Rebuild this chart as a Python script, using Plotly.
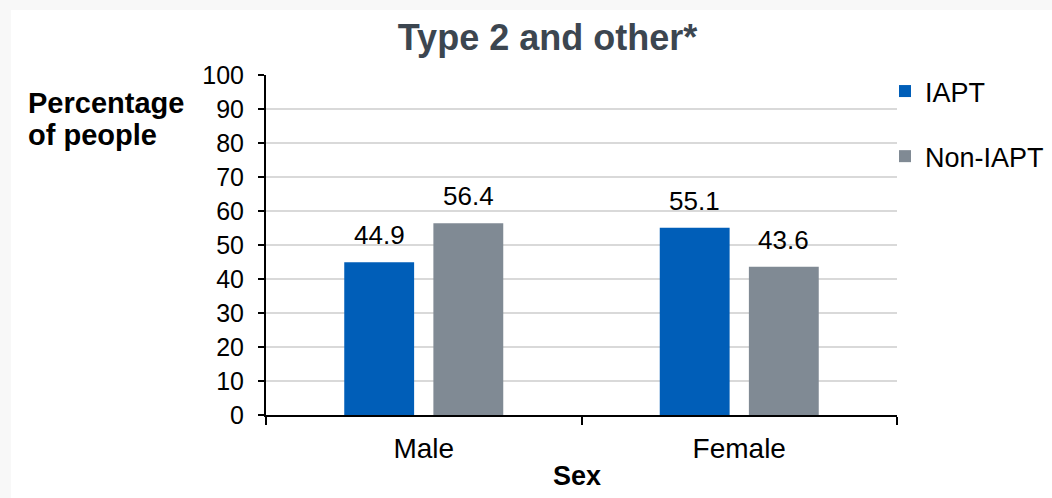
import plotly.graph_objects as go

# Chart data
categories = ["Male", "Female"]
series_names = ["IAPT", "Non-IAPT"]
iapt_values = [44.9, 55.1]
non_iapt_values = [56.4, 43.6]
y_tick_values = [0, 10, 20, 30, 40, 50, 60, 70, 80, 90, 100]

title_text = "Type 2 and other*"
y_title_lines = ["Percentage", "of people"]
x_title_text = "Sex"

# Page and layout geometry
W, H = 1052, 498
M_L, M_R, M_T, M_B = 266, 155, 75, 83
PLOT_W = W - M_L - M_R
PLOT_H = H - M_T - M_B
BARGAP = 0.435
BARGROUPGAP = 0.216

FONT = "Liberation Sans, Arial, sans-serif"
COLORS = {"IAPT": "#005EB8", "Non-IAPT": "#808A94"}


def px_to_paper_x(px):
    return (px - M_L) / PLOT_W


def px_to_paper_y(py):
    return (H - M_B - py) / PLOT_H


fig = go.Figure()
for name, vals in zip(series_names, [iapt_values, non_iapt_values]):
    fig.add_trace(go.Bar(
        name=name,
        x=categories,
        y=vals,
        marker=dict(color=COLORS[name], line=dict(width=0)),
        legendgroup=name,
        hoverinfo="skip",
    ))

# Value labels above each bar, offset to the centre of its slot in the group
slot_w = PLOT_W / len(categories) * (1 - BARGAP) / len(series_names)
annotations = []
for i, vals in enumerate([iapt_values, non_iapt_values]):
    offset = (i - (len(series_names) - 1) / 2) * slot_w
    for cat, v in zip(categories, vals):
        annotations.append(dict(
            x=cat, y=v, xref="x", yref="y",
            text=f"{v:.1f}", showarrow=False,
            xanchor="center", yanchor="bottom",
            xshift=offset, yshift=10,
            font=dict(family=FONT, size=26, color="#000000"),
        ))

# Horizontal y-axis title at the upper left, one line per annotation
for line, ypx in zip(y_title_lines, [103, 135]):
    annotations.append(dict(
        x=px_to_paper_x(26), y=px_to_paper_y(ypx), xref="paper", yref="paper",
        text=f"<b>{line}</b>", showarrow=False,
        xanchor="left", yanchor="middle", align="left",
        font=dict(family=FONT, size=29, color="#000000"),
    ))

# x-axis title
annotations.append(dict(
    x=px_to_paper_x(577), y=px_to_paper_y(476), xref="paper", yref="paper",
    text=f"<b>{x_title_text}</b>", showarrow=False,
    xanchor="center", yanchor="middle",
    font=dict(family=FONT, size=27, color="#000000"),
))

# White panel over the light grey page
shapes = [dict(
    type="rect", xref="paper", yref="paper", layer="below",
    x0=px_to_paper_x(11), x1=px_to_paper_x(W + 5),
    y0=px_to_paper_y(H + 5), y1=px_to_paper_y(10),
    fillcolor="#FFFFFF", line=dict(width=0),
)]

fig.update_layout(
    width=W, height=H,
    margin=dict(l=M_L, r=M_R, t=M_T, b=M_B, autoexpand=False),
    paper_bgcolor="#F8F8F8",
    plot_bgcolor="#FFFFFF",
    barmode="group",
    bargap=BARGAP,
    bargroupgap=BARGROUPGAP,
    title=dict(
        text=f"<b>{title_text}</b>",
        x=547.5 / W, xref="container", xanchor="center",
        y=1 - 37 / H, yref="container", yanchor="middle",
        font=dict(family=FONT, size=36, color="#3C4650"),
    ),
    showlegend=True,
    legend=dict(
        x=px_to_paper_x(885), y=px_to_paper_y(67), xanchor="left", yanchor="top",
        traceorder="grouped", tracegroupgap=27,
        font=dict(family=FONT, size=27, color="#000000"),
        bgcolor="rgba(0,0,0,0)", itemwidth=30,
    ),
    font=dict(family=FONT, color="#000000"),
    annotations=annotations,
    shapes=shapes,
    hovermode=False,
)

fig.update_xaxes(
    type="category",
    showline=True, linecolor="#000000", linewidth=2,
    ticks="outside", tickson="boundaries", ticklen=8, tickwidth=2, tickcolor="#000000",
    tickfont=dict(family=FONT, size=28, color="#000000"),
    ticklabelstandoff=7,
    showgrid=False, zeroline=False,
)
fig.update_yaxes(
    range=[0, 100],
    tickvals=y_tick_values,
    showline=True, linecolor="#000000", linewidth=2,
    ticks="outside", ticklen=6, tickwidth=2, tickcolor="#000000",
    tickfont=dict(family=FONT, size=25, color="#000000"),
    ticklabelstandoff=9,
    showgrid=True, gridcolor="#D9D9D9", gridwidth=1.5,
    zeroline=False,
)

fig.write_html("out.html")
